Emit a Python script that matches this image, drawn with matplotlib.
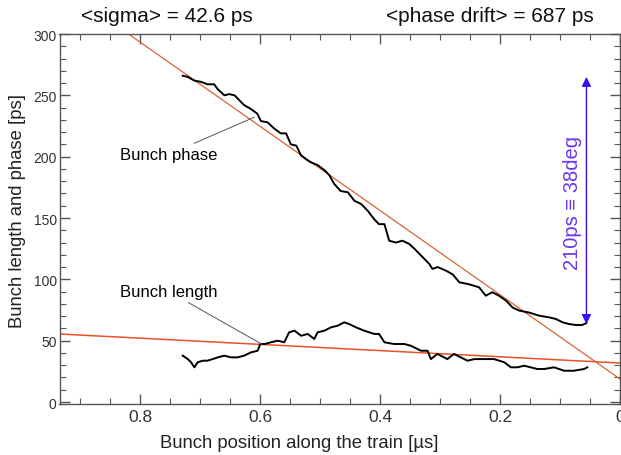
import matplotlib
matplotlib.use("Agg")
import matplotlib.pyplot as plt
from matplotlib.ticker import MultipleLocator, FuncFormatter

plt.rcParams['font.family'] = ['Liberation Sans', 'DejaVu Sans']

# Bunch phase trace (x in us, y in ps)
phase_x = [0.7295, 0.721, 0.710, 0.699, 0.688, 0.677, 0.671, 0.660, 0.652, 0.643,
           0.635, 0.627, 0.616, 0.605, 0.599, 0.588, 0.577, 0.566, 0.557, 0.549,
           0.540, 0.532, 0.524, 0.516, 0.504, 0.493, 0.485, 0.477, 0.466, 0.454,
           0.443, 0.432, 0.421, 0.410, 0.402, 0.393, 0.385, 0.374, 0.363, 0.352,
           0.343, 0.329, 0.318, 0.313, 0.304, 0.290, 0.279, 0.268, 0.252, 0.235,
           0.224, 0.213, 0.202, 0.190, 0.179, 0.168, 0.152, 0.135, 0.118, 0.107,
           0.096, 0.085, 0.074, 0.063, 0.056]
phase_y = [266, 265, 262, 261, 259, 259, 255, 250, 251, 250,
           246, 242, 239, 235, 229, 228, 223, 219, 219, 210,
           209, 201, 198, 195.5, 193, 189, 185, 178, 172, 171,
           164, 161.5, 156, 149, 145, 145, 131.5, 130, 131.5, 129,
           125, 118, 112.5, 108.5, 110, 107, 104, 97.6, 96, 93.5,
           86.7, 89.5, 86.7, 82.6, 77, 74.5, 73, 70.4, 69, 67.7,
           65, 63.6, 62.8, 62.8, 64.4]

# Bunch length trace
length_x = [0.7295, 0.721, 0.7155, 0.710, 0.7045, 0.696, 0.688, 0.6795, 0.671, 0.660,
            0.649, 0.638, 0.627, 0.6155, 0.6045, 0.600, 0.593, 0.582, 0.571, 0.560,
            0.552, 0.543, 0.532, 0.521, 0.510, 0.5045, 0.493, 0.482, 0.471, 0.460,
            0.452, 0.4405, 0.427, 0.410, 0.402, 0.393, 0.377, 0.360, 0.349, 0.332,
            0.321, 0.3155, 0.3045, 0.288, 0.277, 0.2655, 0.2545, 0.243, 0.227, 0.210,
            0.193, 0.182, 0.171, 0.160, 0.149, 0.138, 0.1265, 0.110, 0.093, 0.077,
            0.060, 0.0545]
length_y = [37.8, 35, 32.4, 28.3, 32.4, 33.7, 33.7, 35, 36.4, 37.8,
            36.4, 36.4, 37.8, 40.5, 41.8, 47.3, 47.3, 48.7, 50, 48.7,
            56.8, 58.2, 54, 55.5, 51.4, 56.8, 58.2, 60.9, 62.2, 65,
            63.6, 60.9, 58.2, 55.5, 55.5, 48.7, 47.3, 47.3, 45.9, 41.8,
            41.8, 35, 39.2, 35, 39.2, 36.4, 33.7, 35, 35, 35,
            32.4, 28.3, 28.3, 29.6, 28.3, 26.9, 26.9, 28.3, 25.5, 25.5,
            26.9, 28.3]

# Linear fits: y = intercept + slope * x
phase_fit = (18.8, 343.0)
length_fit = (31.8, 25.3)
fit_x = [0.935, 0.0]

arrow_x = 0.056
arrow_y = (63.6, 265.0)

W, H = 621, 456
fig = plt.figure(figsize=(W / 100, H / 100), dpi=100)
ax = fig.add_axes([59.5 / W, (H - 404.5) / H, (620 - 59.5) / W, (404.5 - 35) / H])

ax.set_xlim(0.935, 0.0)
ax.set_ylim(-1.2, 300)

ax.plot(fit_x, [phase_fit[0] + phase_fit[1] * v for v in fit_x], color='#d8642f', lw=0.9, zorder=2)
ax.plot(fit_x, [length_fit[0] + length_fit[1] * v for v in fit_x], color='#ea5226', lw=1.1, zorder=2)

ax.plot(phase_x, phase_y, color='black', lw=1.4, zorder=3)
ax.plot(length_x, length_y, color='black', lw=1.4, zorder=3)

# Labels with pointer lines
ax.annotate('Bunch phase', xy=(0.61, 232.2), xytext=(0.671, 202), ha='right', va='center',
            fontsize=12, arrowprops=dict(arrowstyle='-', color='#555555', lw=0.7,
                                         shrinkA=1, shrinkB=0))
ax.annotate('Bunch length', xy=(0.598, 47.3), xytext=(0.671, 90), ha='right', va='center',
            fontsize=12, arrowprops=dict(arrowstyle='-', color='#555555', lw=0.7,
                                         shrinkA=1, shrinkB=0))

# Blue double arrow
ax.annotate('', xy=(arrow_x, arrow_y[1]), xytext=(arrow_x, arrow_y[0]),
            arrowprops=dict(arrowstyle='<|-|>', color='#3a10f0', lw=1.0,
                            mutation_scale=14, shrinkA=0, shrinkB=0))
ax.text(0.080, 163, '210ps \u2261 38deg', rotation=90, ha='center', va='center',
        color='#6a35f5', fontsize=14.5)

ax.xaxis.set_major_locator(MultipleLocator(0.2))
ax.xaxis.set_minor_locator(MultipleLocator(0.05))
ax.yaxis.set_major_locator(MultipleLocator(50))
ax.yaxis.set_minor_locator(MultipleLocator(10))
ax.xaxis.set_major_formatter(FuncFormatter(lambda v, p: '0' if abs(v) < 1e-9 else f'{v:.1f}'))

ax.tick_params(which='both', direction='in', top=True, right=True, colors='#555555',
               labelcolor='#333333')
ax.tick_params(which='major', length=7.5, width=1.0)
ax.tick_params(which='minor', length=4.5, width=0.8)
ax.tick_params(axis='y', pad=2, labelsize=10)
ax.tick_params(axis='x', pad=4, labelsize=12.5)
for s in ax.spines.values():
    s.set_color('#555555')
    s.set_linewidth(1.0)

# Axis titles
fig.text(299 / W, 1 - 444 / H, 'Bunch position along the train [\u00b5s]', ha='center', va='center',
         fontsize=13.3, color='#222222')
fig.text(17.5 / W, 1 - 211 / H, 'Bunch length and phase [ps]', ha='center', va='center',
         rotation=90, fontsize=13.3, color='#222222')

fig.text(167 / W, 1 - 17 / H, '<sigma> = 42.6 ps', ha='center', va='center', fontsize=15, color='#111111')
fig.text(490 / W, 1 - 17 / H, '<phase drift> = 687 ps', ha='center', va='center', fontsize=15, color='#111111')

fig.savefig('out.png', dpi=100)
